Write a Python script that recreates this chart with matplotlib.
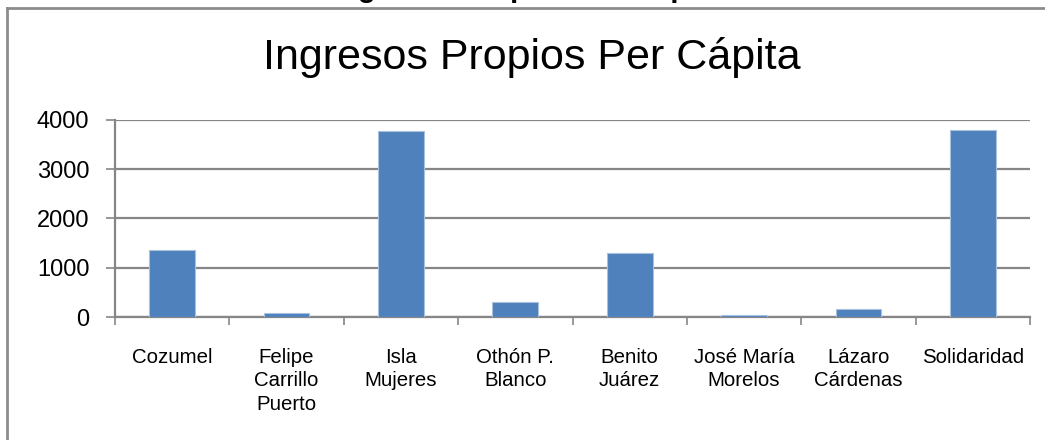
import matplotlib.pyplot as plt
from matplotlib.lines import Line2D
import numpy as np

categories = ["Cozumel", "Felipe\nCarrillo\nPuerto", "Isla\nMujeres", "Othón P.\nBlanco",
              "Benito\nJuárez", "José María\nMorelos", "Lázaro\nCárdenas", "Solidaridad"]
values = [1370, 80, 3770, 310, 1295, 45, 160, 3800]
yticks = [0, 1000, 2000, 3000, 4000]

W, H = 1045, 440
fig = plt.figure(figsize=(W / 100, H / 100), dpi=100)
ax = fig.add_axes([115 / W, (H - 317) / H, (1030 - 115) / W, (317 - 120) / H])

gray = '#868686'
x = np.arange(len(categories))
ax.bar(x, values, width=0.4, color='#4F81BD', edgecolor='#a9c0df', linewidth=0.8, zorder=3)

ax.set_xlim(-0.5, len(categories) - 0.5)
ax.set_ylim(0, 4000)
ax.set_yticks(yticks)
ax.set_yticklabels([str(t) for t in yticks], fontsize=17, family='Liberation Sans')
ax.yaxis.grid(True, color=gray, linewidth=1.6, zorder=0)
ax.tick_params(axis='y', length=6.5, width=1.2, color=gray, pad=12, direction='out')

# labels at category centres, tick marks between categories
ax.set_xticks(x)
ax.set_xticklabels(categories, fontsize=14.7, family='Liberation Sans', linespacing=1.32, va='top')
ax.tick_params(axis='x', length=0, pad=22)
ax.set_xticks(np.arange(-0.5, len(categories)), minor=True)
ax.tick_params(axis='x', which='minor', length=6, width=1.2, color=gray, direction='out')

for s in ['top', 'right']:
    ax.spines[s].set_visible(False)
for s in ['left', 'bottom']:
    ax.spines[s].set_color(gray)
    ax.spines[s].set_linewidth(1.6)

fig.text(532 / W, (H - 58) / H, "Ingresos Propios Per Cápita", ha='center', va='center',
         fontsize=31, family='Liberation Sans')

# chart frame (cropped at right and bottom)
fig.add_artist(Line2D([7 / W, 7 / W], [0, (H - 8) / H], color='#8c8c8c', linewidth=2))
fig.add_artist(Line2D([7 / W, 1], [(H - 8) / H, (H - 8) / H], color='#8c8c8c', linewidth=2))

# document heading cut off above the chart
fig.text(332 / W, 1 + 3 / H, "Ingresos Propios Per Cápita", ha='left', va='baseline',
         fontsize=21, fontweight='bold', family='Liberation Sans')

fig.savefig('out.png', dpi=100)
